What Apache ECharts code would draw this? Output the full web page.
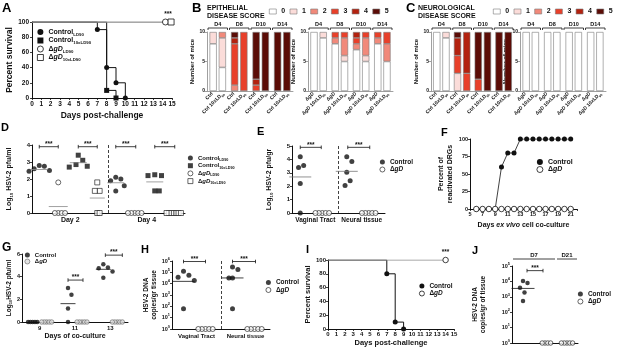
<!DOCTYPE html>
<html>
<head>
<meta charset="utf-8">
<script src="https://cdn.jsdelivr.net/npm/echarts@6.0.0/dist/echarts.min.js"></script>
<style>
  html, body { margin: 0; padding: 0; background: #fff; }
  #chart { width: 617px; height: 350px; }
</style>
</head>
<body>
<div id="chart"></div>
<script>
// ---------- data ----------
// A: percent survival, [day, %]
const aCtrlLD90 = [[0, 100], [7, 90], [8, 40], [9, 20], [10, 0]];
const aCtrl10x = [[0, 100], [8, 10], [9, 0]];
const aGdLD90 = [[0, 100], [14.3, 100]];
const aGd10x = [[0, 100], [14.9, 100]];

// B / C: number of mice with score 0..5, one row per day
const scoreDays = ['D4', 'D8', 'D10', 'D14'];
const scoreNames = ['0', '1', '2', '3', '4', '5'];
const epiCtrl = [[8, 2, 0, 0, 0, 0], [0, 0, 1, 7, 1, 1], [0, 0, 0, 1, 1, 8], [0, 0, 0, 0, 0, 10]];
const epiCtrl10 = [[4, 5, 1, 0, 0, 0], [0, 0, 0, 10, 0, 0], [0, 0, 0, 0, 0, 10], [0, 0, 0, 0, 0, 10]];
const epiGd = [[10, 0, 0, 0, 0, 0], [8, 0, 1, 1, 0, 0], [7, 0, 1, 1, 1, 0], [8, 0, 1, 1, 0, 0]];
const epiGd10 = [[9, 1, 0, 0, 0, 0], [5, 1, 3, 1, 0, 0], [5, 1, 3, 1, 0, 0], [5, 0, 3, 2, 0, 0]];
const neuCtrl = [[10, 0, 0, 0, 0, 0], [0, 3, 0, 3, 3, 1], [0, 0, 0, 2, 0, 8], [0, 0, 0, 0, 0, 10]];
const neuCtrl10 = [[9, 1, 0, 0, 0, 0], [0, 0, 0, 3, 7, 0], [0, 0, 0, 0, 0, 10], [0, 0, 0, 0, 0, 10]];
const neuGd = [[10, 0, 0, 0, 0, 0], [10, 0, 0, 0, 0, 0], [10, 0, 0, 0, 0, 0], [10, 0, 0, 0, 0, 0]];
const neuGd10 = [[10, 0, 0, 0, 0, 0], [10, 0, 0, 0, 0, 0], [10, 0, 0, 0, 0, 0], [10, 0, 0, 0, 0, 0]];
const ctrlBarLabels = ['Ctrl', 'Ctrl 10xLD90'];
const gdBarLabels = ['ΔgD', 'ΔgD 10xLD90'];

// D: log10 pfu/ml per mouse
const dDays = ['Day 2', 'Day 4'];
const dCtrlLD90 = [[2.8, 2.75, 2.6, 2.5, 2.45], [2.1, 2.0, 1.9, 1.6, 1.3]];
const dGdLD90 = [[1.8, 0, 0, 0, 0], [0, 0, 0, 0, 0]];
const dCtrl10x = [[3.4, 3.1, 2.85, 2.75, 2.7], [2.25, 2.2, 2.2, 1.3, 1.3]];
const dGd10x = [[1.8, 1.3, 1.3, 0, 0], [0, 0, 0, 0, 0, 0, 0]];
const dMeanCtrlLD90 = [2.56, 1.78];
const dMeanGdLD90 = [0.38, null];
const dMeanCtrl10x = [2.96, 1.83];
const dMeanGd10x = [0.88, null];

// E: log10 pfu/gr
const eTissues = ['Vaginal Tract', 'Neural tissue'];
const eCtrl = [[4.2, 3.55, 3.4, 2.2, 0], [4.2, 3.85, 3.05, 2.4, 2.05]];
const eGd = [[0, 0, 0, 0, 0], [0, 0, 0, 0, 0]];
const eMeanCtrl = [2.69, 3.11];

// F: percent of reactivated DRGs
const fDays = [6, 7, 8, 9, 10, 11, 12, 13, 14, 15, 16, 17, 18, 19, 20, 21];
const fCtrl = [0, 0, 0, 0, 60, 80, 80, 100, 100, 100, 100, 100, 100, 100, 100, 100];
const fGd = [0, 0, 0, 0, 0, 0, 0, 0, 0, 0, 0, 0, 0, 0, 0, 0];

// G: log10 pfu/ml in co-culture
const gDays = ['9', '11', '13'];
const gCtrl = [[0, 0, 0, 0, 0], [3.0, 2.4, 1.2, 0], [5.1, 4.8, 4.75, 4.45, 3.9]];
const gGd = [[0, 0, 0, 0, 0], [0, 0, 0, 0, 0], [0, 0, 0, 0, 0]];
const gMeanCtrl = [null, 1.62, 4.65];

// H: HSV-2 DNA copies / gr tissue
const hTissues = ['Vaginal Tract', 'Neural tissue'];
const hCtrl = [[126000, 56000, 37000, 18600, 60], [290000, 178000, 32000, 32000, 60]];
const hGd = [[1, 1, 1, 1, 1], [1, 1, 1, 1, 1]];
const hMeanCtrl = [16000, 32000];

// I: percent survival
const iCtrl = [[0, 100], [7, 80], [8, 10], [9, 0]];
const iGd = [[0, 100], [14, 100]];

// J: HSV-2 DNA copies / gr of tissue
const jGroups = ['D7 Control', 'D7 ΔgD', 'D21 ΔgD'];
const jHeaders = ['D7', 'D21'];
const jCtrlD7 = [10700, 8000, 3800, 1900, 525];
const jGdD7 = [1, 1, 1, 1];
const jGdD21 = [1, 1, 1, 1, 1];
const jMeanCtrl = [3500];

// ---------- style ----------
const FONT = '"Liberation Sans", Arial, Helvetica, sans-serif';
const INK = '#111';
const scoreColors = ['#ffffff', '#fbdcd9', '#f1897a', '#e8402a', '#b3220f', '#5b0c06'];
const FILLED = {color: INK};
const OPEN = {color: '#fff', borderColor: INK, borderWidth: 0.8};
const GREYOPEN = {color: '#dcdcdc', borderColor: '#555', borderWidth: 0.7};

function tx(size, extra) {
  return Object.assign({fontFamily: FONT, fontWeight: 'bold', fontSize: size, color: INK}, extra || {});
}
function subRich(size) {
  return {
    a: tx(size, {lineHeight: size + 2}),
    i: tx(size, {lineHeight: size + 2, fontStyle: 'italic'}),
    s: tx(size * 0.62, {verticalAlign: 'bottom'})
  };
}
function supRich(size) {
  return {
    b: tx(size, {lineHeight: size + 3}),
    e: tx(size * 0.7, {verticalAlign: 'top'})
  };
}
function richify(str) {
  return str.split(/(ΔgD|LD90)/).filter(Boolean).map(p =>
    p === 'ΔgD' ? '{a|Δ}{i|gD}' : p === 'LD90' ? '{a|LD}{s|90}' : '{a|' + p + '}').join('');
}
const legendText = {
  ctlLD: '{a|Control}{s|LD90}', ctl10: '{a|Control}{s|10xLD90}',
  gdLD: '{a|Δ}{i|gD}{s|LD90}', gd10: '{a|Δ}{i|gD}{s|10xLD90}',
  ctl: '{a|Control}', gd: '{a|Δ}{i|gD}'
};

const grid = [], xAxis = [], yAxis = [], series = [], legend = [], graphic = [];

function valAxis(gi, o) {
  return Object.assign({
    type: 'value', gridIndex: gi, splitLine: {show: false},
    axisLine: {show: true, onZero: false, lineStyle: {color: INK, width: 1}},
    axisTick: {show: true, length: 2, lineStyle: {color: INK, width: 0.8}},
    axisLabel: tx(6, {margin: 2})
  }, o);
}
function catAxis(gi, data, o) {
  return Object.assign({
    type: 'category', gridIndex: gi, data,
    axisLine: {show: true, onZero: false, lineStyle: {color: INK, width: 1}},
    axisTick: {show: false},
    axisLabel: tx(6.5, {margin: 4, interval: 0})
  }, o);
}
function yName(text, size, gap) {
  return {name: text, nameLocation: 'middle', nameGap: gap,
    nameTextStyle: Object.assign(tx(size, {lineHeight: size + 1.5}), {rich: subRich(size)})};
}
function letter(ch, x, y, size) {
  graphic.push({type: 'text', x, y, silent: true,
    style: {text: ch, fontFamily: FONT, fontWeight: 'bold', fontSize: size, fill: '#000', verticalAlign: 'top'}});
}
function legendBox(left, top, size, items, extra) {
  return Object.assign({
    left, top, orient: 'vertical', padding: 0, itemWidth: 5, itemHeight: 5, itemGap: 0.5,
    selectedMode: false,
    data: items.map(it => ({name: it[0], icon: it[1], itemStyle: it[2]})),
    formatter: n => { const k = n.split(':')[1]; return legendText[k] || ('{a|' + k + '}'); },
    textStyle: Object.assign(tx(size), {rich: subRich(size)})
  }, extra || {});
}

// beeswarm style spreading; vertical closeness counts half so clusters fan out sideways
function swarm(ys, size, rowDist) {
  const placed = [], out = [];
  const step = Math.min(size, rowDist) / 2;
  ys.forEach(y => {
    for (let k = 0; k < 200; k++) {
      const x = (k % 2 ? 1 : -1) * Math.ceil(k / 2) * step;
      const ok = placed.every(p => {
        const dx = Math.abs(p[0] - x), dy = Math.abs(p[1] - y);
        return dy < 0.01 ? dx >= rowDist - 1e-6 : Math.hypot(dx, dy * 0.5) >= size * 0.95;
      });
      if (ok) { placed.push([x, y]); out.push(x); break; }
    }
  });
  return out;
}
function dotSeries(xi, yi, cats, groups, o) {
  const data = [];
  groups.forEach((vals, ci) => {
    const ys = vals.map(v => (o.log ? Math.log10(v) : v) * o.ppu);
    const offs = swarm(ys, o.size, o.rowDist);
    vals.forEach((v, k) => data.push({value: [cats[ci], v], symbolOffset: [o.dodge + offs[k], 0]}));
  });
  return {type: 'scatter', name: o.name, xAxisIndex: xi, yAxisIndex: yi, symbol: o.symbol,
    symbolSize: o.size, itemStyle: o.style, data, silent: true, z: 4};
}
function meanSeries(xi, yi, cats, means, dodge, w, color) {
  const data = [];
  means.forEach((m, i) => { if (m != null) data.push({value: [cats[i], m], symbolOffset: [dodge, 0]}); });
  return {type: 'scatter', xAxisIndex: xi, yAxisIndex: yi, symbol: 'rect', symbolSize: [w, 1],
    itemStyle: {color}, data, silent: true, z: 5};
}
function sigSeries(xi, yi, items) {
  return {type: 'custom', xAxisIndex: xi, yAxisIndex: yi, silent: true, z: 6,
    data: items.map(it => [it[0], it[1]]),
    renderItem: (p, api) => {
      const it = items[p.dataIndex];
      const c = api.coord([api.value(0), api.value(1)]);
      const x1 = c[0] + it[2], x2 = c[0] + it[3], y = c[1];
      const st = {stroke: INK, lineWidth: 0.8};
      return {type: 'group', children: [
        {type: 'line', shape: {x1, y1: y, x2, y2: y}, style: st},
        {type: 'line', shape: {x1, y1: y - 1.8, x2: x1, y2: y + 1.8}, style: st},
        {type: 'line', shape: {x1: x2, y1: y - 1.8, x2, y2: y + 1.8}, style: st},
        {type: 'text', x: (x1 + x2) / 2, y: y + 1, style: {text: '***', align: 'center', verticalAlign: 'bottom',
          fontFamily: FONT, fontWeight: 'bold', fontSize: 6.5, fill: INK}}
      ]};
    }};
}
function headerSeries(xi, yi, spans, labels, lift, ticks, pad, fontSize) {
  return {type: 'custom', xAxisIndex: xi, yAxisIndex: yi, silent: true, z: 6, data: spans,
    renderItem: (p, api) => {
      const a = api.coord([api.value(0), api.value(2)]);
      const b = api.coord([api.value(1), api.value(2)]);
      const w = api.size([1, 0])[0];
      const x1 = a[0] - w / 2 + pad, x2 = b[0] + w / 2 - pad, y = a[1] - lift;
      const pts = ticks ? [[x1, y + 2], [x1, y], [x2, y], [x2, y + 2]] : [[x1, y], [x2, y]];
      return {type: 'group', children: [
        {type: 'polyline', shape: {points: pts}, style: {stroke: INK, lineWidth: 0.8, fill: null}},
        {type: 'text', x: (x1 + x2) / 2, y: y - 0.8, style: {text: labels[p.dataIndex], align: 'center',
          verticalAlign: 'bottom', fontFamily: FONT, fontWeight: 'bold', fontSize, fill: INK}}
      ]};
    }};
}
function survLine(xi, yi, name, pts, symbol, size, style, lineColor, z, star) {
  return {type: 'line', name, xAxisIndex: xi, yAxisIndex: yi, step: 'end', symbol, symbolSize: size,
    lineStyle: {color: lineColor, width: 1}, itemStyle: style, z, silent: true,
    data: pts.map((p, k) => {
      if (k === 0) return {value: p, symbol: 'none'};
      if (star && k === pts.length - 1) {
        return {value: p, label: Object.assign({show: true, position: 'top', distance: 1, offset: star, formatter: '***'}, tx(6.5))};
      }
      return {value: p};
    })};
}

// ---------- A ----------
letter('A', 2, 2, 13);
const gA = grid.push({left: 32, top: 22, width: 140, height: 76}) - 1;
const xA = xAxis.push(valAxis(gA, {min: 0, max: 15, interval: 1, axisLabel: tx(6.5, {margin: 3}),
  name: 'Days post-challenge', nameLocation: 'middle', nameGap: 13, nameTextStyle: tx(8.5)})) - 1;
const yA = yAxis.push(valAxis(gA, Object.assign({min: 0, max: 100, interval: 20, axisLabel: tx(6.5, {margin: 3})},
  yName('Percent survival', 8.5, 14)))) - 1;
series.push(
  survLine(xA, yA, 'A:ctlLD', aCtrlLD90, 'circle', 5, FILLED, INK, 3),
  survLine(xA, yA, 'A:ctl10', aCtrl10x, 'rect', 5, FILLED, INK, 3),
  survLine(xA, yA, 'A:gdLD', aGdLD90, 'circle', 6, OPEN, '#8c8c8c', 4),
  survLine(xA, yA, 'A:gd10', aGd10x, 'rect', 6, OPEN, '#8c8c8c', 4, [-3, 0]));
legend.push(legendBox(37, 28.5, 7, [
  ['A:ctlLD', 'circle', FILLED], ['A:ctl10', 'rect', FILLED],
  ['A:gdLD', 'circle', OPEN], ['A:gd10', 'rect', OPEN]], {itemWidth: 6, itemHeight: 6}));

// ---------- B / C ----------
function scorePanel(left, width, conds, pair, prefix, nameGap) {
  const gi = grid.push({left, top: 32, width, height: 59}) - 1;
  const xi = xAxis.push({type: 'category', gridIndex: gi, data: scoreDays,
    axisLine: {onZero: false, lineStyle: {color: '#888', width: 0.8}}, axisTick: {show: false}, axisLabel: {show: false}}) - 1;
  xAxis.push({type: 'category', gridIndex: gi, data: scoreDays.flatMap(() => pair), position: 'bottom',
    axisLine: {show: false}, axisTick: {show: false},
    axisLabel: Object.assign(tx(5), {interval: 0, rotate: 45, margin: 2, formatter: v => richify(v), rich: subRich(5)})});
  const yi = yAxis.push({type: 'value', gridIndex: gi, min: 0, max: 10, interval: 5, splitLine: {show: false},
    axisLine: {show: true, lineStyle: {color: '#888', width: 0.8}},
    axisTick: {show: true, length: 2, lineStyle: {color: '#888', width: 0.8}},
    axisLabel: tx(5, {margin: 2}),
    name: 'Number of mice', nameLocation: 'middle', nameGap, nameTextStyle: tx(6)}) - 1;
  conds.forEach((cond, c) => {
    scoreNames.forEach((s, k) => {
      series.push({type: 'bar', name: prefix + ':' + s, xAxisIndex: xi, yAxisIndex: yi, stack: 'st' + gi + '_' + c,
        barWidth: 7.2, barGap: '28%', silent: true,
        data: cond.map(row => row[k] || '-'),
        itemStyle: {color: scoreColors[k], borderColor: '#7a7a7a', borderWidth: 0.6}});
    });
  });
  series.push(headerSeries(xi, yi, scoreDays.map((d, i) => [i, i, 10]), scoreDays, 4, true, 1, 5.5));
}
function scoreLegend(left, prefix) {
  return legendBox(left, 8, 7, scoreNames.map((s, k) =>
    [prefix + ':' + s, 'rect', {color: scoreColors[k], borderColor: '#7a7a7a', borderWidth: 0.6}]),
    {orient: 'horizontal', itemWidth: 7, itemHeight: 5, itemGap: 4.5});
}
letter('B', 192, 2, 13);
graphic.push({type: 'text', x: 207, y: 4, silent: true, style: {text: 'EPITHELIAL\nDISEASE SCORE',
  fontFamily: FONT, fontWeight: 'bold', fontSize: 7, lineHeight: 8, fill: INK, verticalAlign: 'top'}});
scorePanel(207, 86, [epiCtrl, epiCtrl10], ctrlBarLabels, 'B', 7);
scorePanel(308, 85, [epiGd, epiGd10], gdBarLabels, 'B', 7);
legend.push(scoreLegend(269, 'B'));

letter('C', 406, 2, 13);
graphic.push({type: 'text', x: 418, y: 4, silent: true, style: {text: 'NEUROLOGICAL\nDISEASE SCORE',
  fontFamily: FONT, fontWeight: 'bold', fontSize: 7, lineHeight: 8, fill: INK, verticalAlign: 'top'}});
scorePanel(431, 83, [neuCtrl, neuCtrl10], ctrlBarLabels, 'C', 8);
scorePanel(520, 86, [neuGd, neuGd10], gdBarLabels, 'C', 7);
legend.push(scoreLegend(493, 'C'));

// ---------- D ----------
letter('D', 1, 122, 11);
const dashSplit = {show: true, showMinLine: false, showMaxLine: false, lineStyle: {color: INK, type: [3, 2], width: 0.8}};
const gD = grid.push({left: 32, top: 145, width: 153, height: 68}) - 1;
const xD = xAxis.push(catAxis(gD, dDays, {axisLabel: tx(7, {margin: 4, interval: 0}), splitLine: dashSplit})) - 1;
const yD = yAxis.push(valAxis(gD, Object.assign({min: 0, max: 4, interval: 1},
  yName('{a|Log}{s|10}{a| HSV-2 pfu/ml}', 7, 18)))) - 1;
const dDodge = [-31, -12, 8, 27];
series.push(
  dotSeries(xD, yD, dDays, dCtrlLD90, {name: 'D:ctlLD', dodge: dDodge[0], symbol: 'circle', size: 5, style: FILLED, ppu: 17, rowDist: 3.4}),
  dotSeries(xD, yD, dDays, dGdLD90, {name: 'D:gdLD', dodge: dDodge[1], symbol: 'circle', size: 5, style: OPEN, ppu: 17, rowDist: 3.4}),
  dotSeries(xD, yD, dDays, dCtrl10x, {name: 'D:ctl10', dodge: dDodge[2], symbol: 'rect', size: 5, style: FILLED, ppu: 17, rowDist: 4.5}),
  dotSeries(xD, yD, dDays, dGd10x, {name: 'D:gd10', dodge: dDodge[3], symbol: 'rect', size: 5, style: OPEN, ppu: 17, rowDist: 2.4}),
  meanSeries(xD, yD, dDays, dMeanCtrlLD90, dDodge[0], 17, '#8a8a8a'),
  meanSeries(xD, yD, dDays, dMeanGdLD90, dDodge[1], 19, '#8a8a8a'),
  meanSeries(xD, yD, dDays, dMeanCtrl10x, dDodge[2], 17, '#8a8a8a'),
  meanSeries(xD, yD, dDays, dMeanGd10x, dDodge[3], 15, '#8a8a8a'),
  sigSeries(xD, yD, [['Day 2', 3.9, -31, -12], ['Day 2', 3.9, 8, 27], ['Day 4', 3.9, -31, -11], ['Day 4', 3.9, 8, 28]]));
legend.push(legendBox(187.5, 155, 6, [
  ['D:ctlLD', 'circle', FILLED], ['D:ctl10', 'rect', FILLED],
  ['D:gdLD', 'circle', OPEN], ['D:gd10', 'rect', OPEN]], {itemGap: 0.7}));

// ---------- E ----------
letter('E', 257, 126, 11);
const gE = grid.push({left: 292, top: 146, width: 93, height: 67}) - 1;
const xE = xAxis.push(catAxis(gE, eTissues, {axisLabel: tx(6.5, {margin: 4, interval: 0}), splitLine: dashSplit})) - 1;
const yE = yAxis.push(valAxis(gE, Object.assign({min: 0, max: 5, interval: 1},
  yName('{a|Log}{s|10}{a| HSV-2 pfu/gr}', 7, 18)))) - 1;
series.push(
  dotSeries(xE, yE, eTissues, eCtrl, {name: 'E:ctl', dodge: -15, symbol: 'circle', size: 5, style: FILLED, ppu: 13.4, rowDist: 3.4}),
  dotSeries(xE, yE, eTissues, eGd, {name: 'E:gd', dodge: 7, symbol: 'circle', size: 5, style: OPEN, ppu: 13.4, rowDist: 3.4}),
  meanSeries(xE, yE, eTissues, eMeanCtrl, -15, 22, '#777'),
  sigSeries(xE, yE, [['Vaginal Tract', 4.9, -15, 6], ['Neural tissue', 4.9, -14, 8]]));
legend.push(legendBox(379.5, 158.5, 6.5, [['E:ctl', 'circle', FILLED], ['E:gd', 'circle', OPEN]]));

// ---------- F ----------
letter('F', 441, 127, 11);
const gF = grid.push({left: 470, top: 139, width: 107, height: 70}) - 1;
const xF = xAxis.push(valAxis(gF, {min: 5, max: 22, interval: 1,
  axisLabel: tx(5.5, {margin: 2, formatter: v => (v % 2 === 1 && v <= 21 ? String(v) : '')}),
  name: '{a|Days }{i|ex vivo}{a| cell co-culture}', nameLocation: 'middle', nameGap: 12,
  nameTextStyle: Object.assign(tx(7), {rich: subRich(7)})})) - 1;
const yF = yAxis.push(valAxis(gF, Object.assign({min: 0, max: 100, interval: 25, axisLabel: tx(5.5, {margin: 2})},
  yName('Percent of\nreactivated DRGs', 7, 16)))) - 1;
series.push(
  {type: 'line', name: 'F:ctl', xAxisIndex: xF, yAxisIndex: yF, symbol: 'circle', symbolSize: 5, silent: true, z: 3,
    itemStyle: FILLED, lineStyle: {color: INK, width: 0.8}, data: fDays.map((d, i) => [d, fCtrl[i]])},
  {type: 'line', name: 'F:gd', xAxisIndex: xF, yAxisIndex: yF, symbol: 'circle', symbolSize: 5.5, silent: true, z: 4,
    itemStyle: OPEN, lineStyle: {color: INK, width: 0.8}, data: fDays.map((d, i) => [d, fGd[i]])});
legend.push(legendBox(536.5, 158.5, 7, [['F:ctl', 'circle', FILLED], ['F:gd', 'circle', OPEN]], {itemWidth: 6, itemHeight: 6}));

// ---------- G ----------
letter('G', 2, 242, 12);
const gG = grid.push({left: 22, top: 254, width: 106, height: 68}) - 1;
const xG = xAxis.push(catAxis(gG, gDays, {axisLabel: tx(6, {margin: 3, interval: 0}),
  name: 'Days of co-culture', nameLocation: 'middle', nameGap: 11, nameTextStyle: tx(7)})) - 1;
const yG = yAxis.push(valAxis(gG, Object.assign({min: 0, max: 6, interval: 2, axisLabel: tx(5.5, {margin: 2})},
  yName('{a|Log}{s|10}{a|HSV-2 pfu/ml}', 6.5, 9)))) - 1;
series.push(
  dotSeries(xG, yG, gDays, gCtrl, {name: 'G:ctl', dodge: -7, symbol: 'circle', size: 4.5, style: FILLED, ppu: 11.3, rowDist: 2.3}),
  dotSeries(xG, yG, gDays, gGd, {name: 'G:gd', dodge: 7, symbol: 'circle', size: 4.5, style: GREYOPEN, ppu: 11.3, rowDist: 2.5}),
  meanSeries(xG, yG, gDays, gMeanCtrl, -7, 15, INK),
  sigSeries(xG, yG, [['11', 3.7, -7, 8], ['13', 5.9, -5, 12]]));
legend.push(legendBox(24.5, 252, 6, [['G:ctl', 'circle', FILLED], ['G:gd', 'circle', GREYOPEN]]));

// ---------- H ----------
letter('H', 141, 244, 11);
const logLabel = size => Object.assign(tx(size, {margin: 2}),
  {formatter: v => '{b|10}{e|' + Math.round(Math.log10(v)) + '}', rich: supRich(size)});
const gH = grid.push({left: 172, top: 261, width: 98, height: 68}) - 1;
const xH = xAxis.push(catAxis(gH, hTissues, {axisLabel: tx(6, {margin: 4, interval: 0}), splitLine: dashSplit})) - 1;
const yH = yAxis.push(valAxis(gH, Object.assign({type: 'log', logBase: 10, min: 1, max: 1e6, axisLabel: logLabel(5.5)},
  yName('HSV-2 DNA\ncopies/gr tissue', 6.5, 14)))) - 1;
series.push(
  dotSeries(xH, yH, hTissues, hCtrl, {name: 'H:ctl', dodge: -13, symbol: 'circle', size: 5, style: FILLED, ppu: 11.3, rowDist: 3.6, log: true}),
  dotSeries(xH, yH, hTissues, hGd, {name: 'H:gd', dodge: 9, symbol: 'circle', size: 5, style: OPEN, ppu: 11.3, rowDist: 3.6, log: true}),
  meanSeries(xH, yH, hTissues, hMeanCtrl, -13, 22, INK),
  sigSeries(xH, yH, [['Vaginal Tract', 9e5, -13, 9], ['Neural tissue', 9e5, -13, 10]]));
legend.push(legendBox(265.5, 279, 6.5, [['H:ctl', 'circle', FILLED], ['H:gd', 'circle', OPEN]]));

// ---------- I ----------
letter('I', 306, 244, 11);
const gI = grid.push({left: 328, top: 260, width: 126, height: 69}) - 1;
const xI = xAxis.push(valAxis(gI, {min: 0, max: 15, interval: 1, axisLabel: tx(6, {margin: 2}),
  name: 'Days post-challenge', nameLocation: 'middle', nameGap: 10, nameTextStyle: tx(7.5)})) - 1;
const yI = yAxis.push(valAxis(gI, Object.assign({min: 0, max: 100, interval: 20, axisLabel: tx(6, {margin: 2})},
  yName('Percent survival', 7.5, 14)))) - 1;
series.push(
  survLine(xI, yI, 'I:ctl', iCtrl, 'circle', 5, FILLED, INK, 3),
  survLine(xI, yI, 'I:gd', iGd, 'circle', 5.5, OPEN, '#8c8c8c', 4, [0, 0]));
legend.push(legendBox(419, 282.5, 6.5, [['I:ctl', 'circle', FILLED], ['I:gd', 'circle', OPEN]]));

// ---------- J ----------
letter('J', 472, 245, 11);
const gJ = grid.push({left: 512, top: 266, width: 66, height: 77}) - 1;
const xJ = xAxis.push(catAxis(gJ, jGroups, {axisLabel: {show: false}})) - 1;
const yJ = yAxis.push(valAxis(gJ, Object.assign({type: 'log', logBase: 10, min: 1, max: 1e5, axisLabel: logLabel(5.5)},
  yName('HSV-2 DNA\ncopies/gr of tissue', 6.5, 25)))) - 1;
series.push(
  dotSeries(xJ, yJ, jGroups, [jCtrlD7], {name: 'J:ctl', dodge: 0, symbol: 'circle', size: 4.5, style: FILLED, ppu: 15.4, rowDist: 3, log: true}),
  dotSeries(xJ, yJ, jGroups.slice(1), [jGdD7, jGdD21], {name: 'J:gd', dodge: 0, symbol: 'circle', size: 4.5, style: OPEN, ppu: 15.4, rowDist: 2.8, log: true}),
  meanSeries(xJ, yJ, jGroups, jMeanCtrl, 0, 23, INK),
  sigSeries(xJ, yJ, [['D7 Control', 5e4, 4, 20]]),
  headerSeries(xJ, yJ, [[0, 1, 1e5], [2, 2, 1e5]], jHeaders, 7, false, 1, 6));
legend.push(legendBox(577.5, 290.5, 6.5, [['J:ctl', 'circle', FILLED], ['J:gd', 'circle', OPEN]]));

// ---------- render ----------
const chart = echarts.init(document.getElementById('chart'));
chart.setOption({
  animation: false,
  backgroundColor: '#fff',
  grid, xAxis, yAxis, series, legend, graphic
});
window.addEventListener('resize', () => chart.resize());
</script>
</body>
</html>
